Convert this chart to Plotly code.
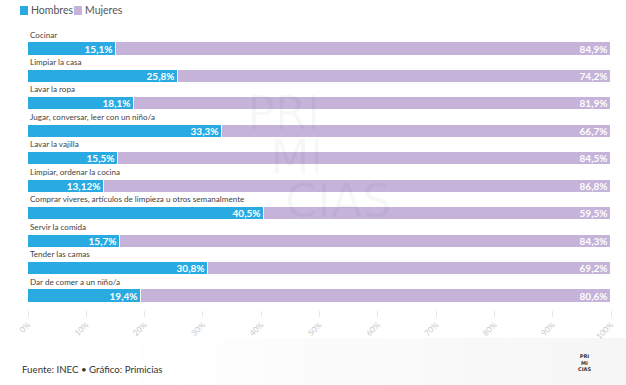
import plotly.graph_objects as go

categories = [
    "Cocinar",
    "Limpiar la casa",
    "Lavar la ropa",
    "Jugar, conversar, leer con un niño/a",
    "Lavar la vajilla",
    "Limpiar, ordenar la cocina",
    "Comprar víveres, artículos de limpieza u otros semanalmente",
    "Servir la comida",
    "Tender las camas",
    "Dar de comer a un niño/a",
]
hombres = [15.1, 25.8, 18.1, 33.3, 15.5, 13.12, 40.5, 15.7, 30.8, 19.4]
mujeres = [84.9, 74.2, 81.9, 66.7, 84.5, 86.8, 59.5, 84.3, 69.2, 80.6]
series_names = ["Hombres", "Mujeres"]
tick_vals = [0, 10, 20, 30, 40, 50, 60, 70, 80, 90, 100]
tick_text = [f"{v}%" for v in tick_vals]

W, H = 626, 385
L, R, T, B = 28, 15, 22, 75
PW, PH = W - L - R, H - T - B

BLUE = "#29ABE2"
PURPLE = "#C5B3DA"
FONT = "Lato"

def fmt(v):
    return f"{v}".replace(".", ",") + "%"

def px2paper(px, py):
    return (px - L) / PW, (H - B - py) / PH

ypos = list(range(len(categories)))

fig = go.Figure()
for name, vals, col in [(series_names[0], hombres, BLUE), (series_names[1], mujeres, PURPLE)]:
    fig.add_trace(go.Bar(
        name=name, x=vals, y=ypos, orientation="h",
        marker=dict(color=col, line=dict(color="white", width=1)),
        text=[fmt(v) for v in vals], textposition="inside",
        insidetextanchor="end", textangle=0, constraintext="none",
        textfont=dict(family=FONT, size=10, color="white", weight="bold"),
        width=0.48, hoverinfo="skip", showlegend=False,
    ))

annotations = []
shapes = []
for i, c in enumerate(categories):
    annotations.append(dict(
        x=0, y=i - 0.27, xref="x", yref="y", text=c, showarrow=False,
        xanchor="left", yanchor="bottom",
        font=dict(family=FONT, size=8.1, color="#444"),
    ))

# legend (manual)
for name, col, sx, tx in [(series_names[0], BLUE, 20, 29), (series_names[1], PURPLE, 74, 83)]:
    x0, y0 = px2paper(sx, 15)
    x1, y1 = px2paper(sx + 8, 6)
    shapes.append(dict(
        type="rect", xref="paper", yref="paper", x0=x0, x1=x1, y0=y0, y1=y1,
        fillcolor=col, line=dict(width=0),
    ))
    xp, yp = px2paper(tx, 10.5)
    annotations.append(dict(
        x=xp, y=yp, xref="paper", yref="paper", text=name, showarrow=False,
        xanchor="left", yanchor="middle",
        font=dict(family=FONT, size=10.5, color="#555"),
    ))

# watermark
for txt, cx, cy in [("PRI", 283, 113), ("MI", 296, 157), ("CIAS", 338, 201)]:
    xp, yp = px2paper(cx, cy)
    annotations.append(dict(
        x=xp, y=yp, xref="paper", yref="paper", text=txt,
        showarrow=False, xanchor="center", yanchor="middle",
        font=dict(family="DejaVu Sans", size=46, color="rgba(0,0,0,0.035)"),
    ))

# footer
xp, yp = px2paper(20, 369)
annotations.append(dict(
    x=xp, y=yp, xref="paper", yref="paper",
    text="Fuente: INEC • Gráfico: Primicias", showarrow=False,
    xanchor="left", yanchor="middle",
    font=dict(family=FONT, size=9.7, color="#333"),
))
# small logo
xp, yp = px2paper(584, 362)
annotations.append(dict(
    x=xp, y=yp, xref="paper", yref="paper",
    text="<b>PRI<br>MI<br>CIAS</b>", showarrow=False,
    xanchor="center", yanchor="middle",
    font=dict(family="DejaVu Sans", size=5, color="#333"),
))

# subtle footer gradient
n = 12
for k in range(n):
    x0 = 140 + k * (W - 140) / n
    x1 = 140 + (k + 1) * (W - 140) / n
    a = 0.035 * (k + 1) / n
    px0, py0 = px2paper(x0, H)
    px1, py1 = px2paper(x1, 338)
    shapes.append(dict(
        type="rect", xref="paper", yref="paper",
        x0=px0, x1=px1, y0=py0, y1=py1,
        fillcolor=f"rgba(0,0,0,{a:.4f})", line=dict(width=0), layer="below",
    ))

fig.update_layout(
    width=W, height=H,
    margin=dict(l=L, r=R, t=T, b=B, autoexpand=False),
    barmode="stack", bargap=0,
    paper_bgcolor="white", plot_bgcolor="white",
    showlegend=False,
    xaxis=dict(
        range=[0, 100], tickvals=tick_vals, ticktext=tick_text,
        tickangle=-45, showgrid=False, zeroline=False, showline=False,
        ticks="outside", ticklen=6, tickcolor="#e6e6e6",
        tickfont=dict(family=FONT, size=8, color="#c8c8c8"),
        fixedrange=True,
    ),
    yaxis=dict(
        range=[9.51, -0.984], showticklabels=False, showgrid=False,
        zeroline=False, showline=False, fixedrange=True,
    ),
    annotations=annotations, shapes=shapes,
)

fig.write_html(
    "out.html",
    config={"displayModeBar": False},
    post_script="document.body.style.margin='0';document.body.style.padding='0';",
)
